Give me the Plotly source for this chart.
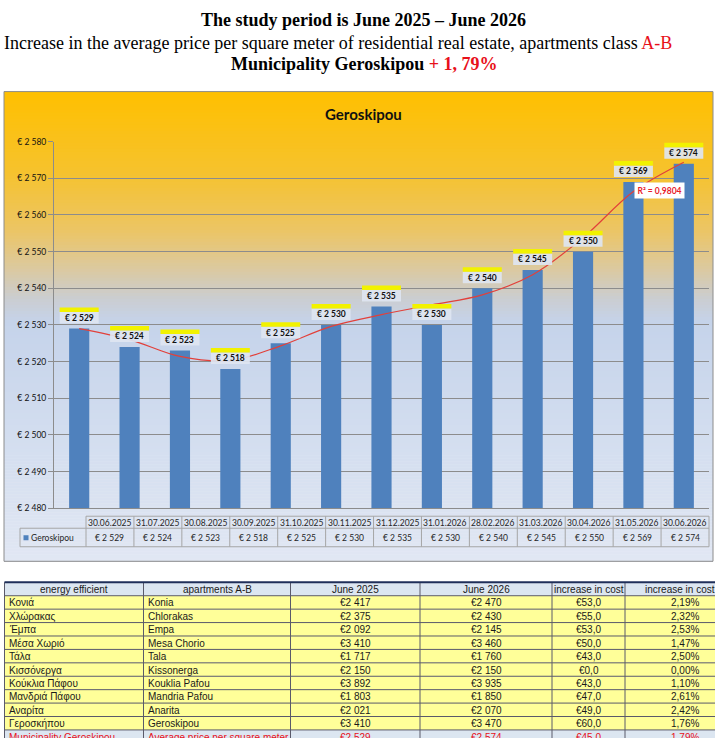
import plotly.graph_objects as go

W, H = 715, 738

# ---- chart data ----
dates = ["30.06.2025", "31.07.2025", "30.08.2025", "30.09.2025", "31.10.2025", "30.11.2025",
         "31.12.2025", "31.01.2026", "28.02.2026", "31.03.2026", "30.04.2026", "31.05.2026",
         "30.06.2026"]
prices = [2529, 2524, 2523, 2518, 2525, 2530, 2535, 2530, 2540, 2545, 2550, 2569, 2574]
# polynomial trend line at each month
trend = [2529.0, 2526.0, 2521.4, 2520.3, 2524.3, 2529.6, 2532.8, 2535.5, 2538.2,
         2543.7, 2553.8, 2566.4, 2574.4]
r_squared = "0,9804"
series_name = "Geroskipou"

y_ticks = [2480, 2490, 2500, 2510, 2520, 2530, 2540, 2550, 2560, 2570, 2580]
y_tick_labels = ["€ 2 480", "€ 2 490", "€ 2 500", "€ 2 510", "€ 2 520", "€ 2 530",
                 "€ 2 540", "€ 2 550", "€ 2 560", "€ 2 570", "€ 2 580"]

# ---- lower table data ----
header = ["energy efficient", "apartments A-B", "June 2025", "June 2026",
          "increase in cost", "increase in cost %"]
names_gr = ["Κονιά", "Χλώρακας", "Έμπα", "Μέσα Χωριό", "Τάλα", "Κισσόνεργα",
            "Κούκλια Πάφου", "Μανδριά Πάφου", "Αναρίτα", "Γεροσκήπου"]
names_en = ["Konia", "Chlorakas", "Empa", "Mesa Chorio", "Tala", "Kissonerga",
            "Kouklia Pafou", "Mandria Pafou", "Anarita", "Geroskipou"]
june_2025 = [2417, 2375, 2092, 3410, 1717, 2150, 3892, 1803, 2021, 3410]
june_2026 = [2470, 2430, 2145, 3460, 1760, 2150, 3935, 1850, 2070, 3470]
increase = [53.0, 55.0, 53.0, 50.0, 43.0, 0.0, 43.0, 47.0, 49.0, 60.0]
increase_pct = [2.19, 2.32, 2.53, 1.47, 2.50, 0.00, 1.10, 2.61, 2.42, 1.76]
total_row = ["Municipality Geroskipou", "Average price per square meter", 2529, 2574, 45.0, 1.79]


def px(x):
    return x / W


def py(y):
    # page pixel (from top) -> paper; slightly stretched about the middle,
    # the photographed page comes out a touch shorter than the layout
    yd = 369 + (y - 369) / 0.985
    return 1 - yd / H


def eur(v, space=" "):
    return f"€{space}{v // 1000} {v % 1000:03d}"


def dec(v, n=1):
    return f"{v:.{n}f}".replace(".", ",")


def note(x, y, text, size, color="#1A1A1A", family="Lato", xanchor="center", **kw):
    # text placed in page pixels
    return dict(x=px(x), y=py(y), xref="paper", yref="paper", text=text, showarrow=False,
                xanchor=xanchor, yanchor="middle",
                font=dict(family=family, size=size, color=color), **kw)


def hline(x0, x1, y, color, width=1):
    return dict(type="line", xref="paper", yref="paper", x0=px(x0), x1=px(x1),
                y0=py(y), y1=py(y), line=dict(color=color, width=width))


def vline(x, y0, y1, color, width=1):
    return dict(type="line", xref="paper", yref="paper", x0=px(x), x1=px(x),
                y0=py(y0), y1=py(y1), line=dict(color=color, width=width))


fig = go.Figure()

fig.add_trace(go.Bar(x=list(range(len(prices))), y=prices, width=0.4,
                     marker=dict(color="#4F81BD", line=dict(width=0)),
                     name=series_name, hoverinfo="skip"))
fig.add_trace(go.Scatter(x=list(range(len(trend))), y=trend, mode="lines",
                         line=dict(color="#E2403A", width=1.2, shape="spline"),
                         hoverinfo="skip"))

shapes = []
ann = []

# gradient background of the chart frame
stops = [(92, (255, 192, 0)), (170, (246, 194, 44)), (230, (236, 197, 100)),
         (268, (220, 201, 158)), (298, (203, 205, 208)), (322, (197, 211, 234)),
         (430, (210, 221, 239)), (561, (225, 231, 243))]


def col_at(y):
    for (y0, c0), (y1, c1) in zip(stops, stops[1:]):
        if y0 <= y <= y1:
            t = (y - y0) / (y1 - y0)
            return "rgb(%d,%d,%d)" % tuple(round(a + (b - a) * t) for a, b in zip(c0, c1))
    return "rgb(%d,%d,%d)" % stops[-1][1]


step = 3
y = 92
while y < 561:
    y2 = min(y + step, 561)
    shapes.append(dict(type="rect", xref="paper", yref="paper", layer="below",
                       x0=px(4), x1=px(713), y0=py(y2 + 0.6), y1=py(y),
                       fillcolor=col_at(y + step / 2), line=dict(width=0)))
    y = y2
shapes.append(dict(type="rect", xref="paper", yref="paper", layer="below",
                   x0=px(4), x1=px(713), y0=py(561), y1=py(92),
                   line=dict(color="#8C8C8C", width=1)))

# data labels with yellow strip
for i, v in enumerate(prices):
    shapes.append(dict(type="rect", xref="x", yref="y", xsizemode="pixel", ysizemode="pixel",
                       xanchor=i, yanchor=v, x0=-19.5, x1=19.5, y0=5, y1=16.5,
                       fillcolor="rgba(222,229,241,0.92)", line=dict(width=0)))
    shapes.append(dict(type="rect", xref="x", yref="y", xsizemode="pixel", ysizemode="pixel",
                       xanchor=i, yanchor=v, x0=-19.5, x1=19.5, y0=16.5, y1=21,
                       fillcolor="#F2F200", line=dict(width=0)))
    ann.append(dict(x=i, y=v, xref="x", yref="y", text="<b>" + eur(v) + "</b>",
                    showarrow=False, yshift=10.5, xanchor="center", yanchor="middle",
                    font=dict(family="Lato", size=8.5, color="#111111")))

ann.append(dict(x=11.52, y=2566.6, xref="x", yref="y", text="<b>R² = " + r_squared + "</b>",
                showarrow=False, bgcolor="white", borderpad=2.5, xanchor="center", yanchor="middle",
                font=dict(family="Lato", size=8.5, color="#E8202A")))

ann.append(note(364, 114, "<b>Geroskipou</b>", 15, "#111111"))

# data table under the chart
tl, tw = 86, (709 - 86) / len(dates)
grid = "#A6A6A6"
shapes.append(hline(tl, 709, 516, grid))
shapes.append(hline(20, 709, 528, grid))
shapes.append(hline(20, 709, 546.5, grid))
shapes.append(vline(20, 528, 546.5, grid))
for k in range(len(dates) + 1):
    shapes.append(vline(tl + k * tw, 516, 546.5, grid))
for k, (d, v) in enumerate(zip(dates, prices)):
    xc = tl + (k + 0.5) * tw
    ann.append(note(xc, 522.3, d, 8.5, "#262626"))
    ann.append(note(xc, 537.7, eur(v), 8.5, "#262626"))
shapes.append(dict(type="rect", xref="paper", yref="paper", x0=px(23.5), x1=px(28.5),
                   y0=py(540), y1=py(535), fillcolor="#4F81BD", line=dict(width=0)))
ann.append(note(29, 537.7, series_name, 8.5, "#262626", xanchor="left"))

# titles above the chart
serif = "Liberation Serif, Times New Roman, serif"
ann.append(note(364, 21, "<b>The study period is June 2025 – June 2026</b>", 18, "black", serif))
ann.append(note(2, 43, "Increase in the average price per square meter of residential real estate, "
                       "apartments class <span style='color:#E8101A'>A-B</span>",
                18, "black", serif, xanchor="left"))
ann.append(note(364, 64, "<b>Municipality Geroskipou <span style='color:#E8101A'>+ 1, 79%</span></b>",
                18, "black", serif))

# lower summary table
cols = [4.5, 143.5, 290.5, 420, 552, 625, 745]
row_top, row_h = 582, 13.4
tfont = "Liberation Sans Narrow, Arial Narrow, Liberation Sans, Arial, sans-serif"
rows = []
for g, e, a, b, inc, pc in zip(names_gr, names_en, june_2025, june_2026, increase, increase_pct):
    rows.append([g, e, eur(a, ""), eur(b, ""), "€" + dec(inc), dec(pc, 2) + "%"])
tr = total_row
rows.append([tr[0], tr[1], eur(tr[2], ""), eur(tr[3], ""), "€" + dec(tr[4]), dec(tr[5], 2) + "%"])
all_rows = [header] + rows
line_c = "#5A5A6A"
for r, cells in enumerate(all_rows):
    y0 = row_top + r * row_h
    y1 = y0 + row_h
    last = r == len(all_rows) - 1
    fill = "#DCE6F1" if (r == 0 or last) else "#FFFF99"
    tcolor = "#E8101A" if last else "#1A1A1A"
    shapes.append(dict(type="rect", xref="paper", yref="paper", x0=px(cols[0]), x1=px(cols[-1]),
                       y0=py(y1), y1=py(y0), fillcolor=fill, line=dict(width=0), layer="below"))
    shapes.append(hline(cols[0], cols[-1], y1, line_c))
    for c, txt in enumerate(cells):
        yc = y0 + row_h / 2 + 0.5
        if c < 2 and r > 0:
            ann.append(note(cols[c] + 2, yc, txt, 10, tcolor, tfont, xanchor="left"))
        else:
            ann.append(note((cols[c] + cols[c + 1]) / 2, yc, txt, 10, tcolor, tfont))
for xx in cols[:-1]:
    shapes.append(vline(xx, row_top, row_top + len(all_rows) * row_h, line_c))
shapes.append(hline(cols[0], cols[-1], row_top, "#1F2F5A", 2))

fig.update_layout(
    width=W, height=H,
    margin=dict(l=0, r=0, t=0, b=0),
    paper_bgcolor="white",
    plot_bgcolor="rgba(0,0,0,0)",
    showlegend=False,
    hovermode=False,
    shapes=shapes,
    annotations=ann,
    xaxis=dict(domain=[px(54), px(709)], range=[-0.5, len(prices) - 0.5],
               showticklabels=False, showgrid=False, zeroline=False,
               showline=True, linecolor="#8C8C8C", ticks=""),
    yaxis=dict(domain=[py(508), py(142)], range=[2480, 2580],
               tickvals=y_ticks, ticktext=y_tick_labels,
               showgrid=True, gridcolor="#8C8C8C", gridwidth=1, zeroline=False,
               showline=True, linecolor="#8C8C8C", ticks="outside", ticklen=5,
               tickcolor="#8C8C8C", tickfont=dict(family="Lato", size=8.5, color="#111111")),
)

# the page is exactly the figure size, so drop the default body margin
fig.write_html("out.html", config={"displayModeBar": False},
               post_script="document.documentElement.style.margin='0';"
                           "document.body.style.margin='0';"
                           "document.body.style.overflow='hidden';")
